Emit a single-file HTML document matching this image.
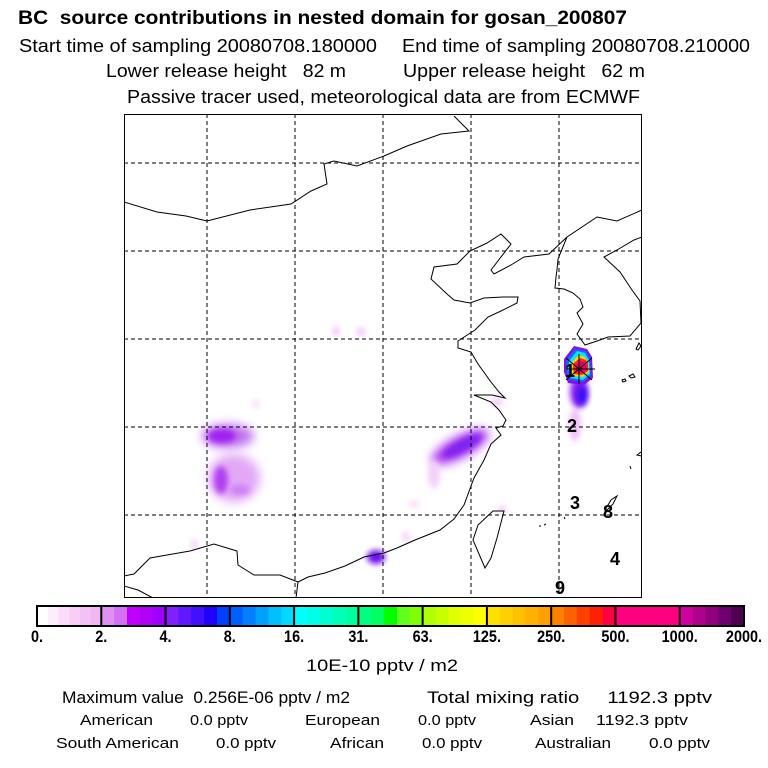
<!DOCTYPE html>
<html><head><meta charset="utf-8"><style>
html,body{margin:0;padding:0;background:#fff;}
svg{display:block;}
text{font-family:"Liberation Sans",Arial,sans-serif;white-space:pre;}
</style></head><body>
<svg width="768" height="768" viewBox="0 0 768 768">
<defs>
<filter id="b3" x="-50%" y="-50%" width="200%" height="200%"><feGaussianBlur stdDeviation="3"/></filter>
<filter id="b5" x="-50%" y="-50%" width="200%" height="200%"><feGaussianBlur stdDeviation="5"/></filter>
<clipPath id="mapclip"><rect x="124" y="114" width="518" height="484"/></clipPath>
</defs>
<rect width="768" height="768" fill="#fff"/>
<g>
<text x="18" y="24" font-size="19" font-weight="bold" textLength="609" lengthAdjust="spacingAndGlyphs">BC  source contributions in nested domain for gosan_200807</text>
<text x="19" y="52" font-size="18" textLength="358" lengthAdjust="spacingAndGlyphs">Start time of sampling 20080708.180000</text>
<text x="402" y="52" font-size="18" textLength="348" lengthAdjust="spacingAndGlyphs">End time of sampling 20080708.210000</text>
<text x="106" y="77" font-size="18" textLength="240" lengthAdjust="spacingAndGlyphs">Lower release height   82 m</text>
<text x="403" y="77" font-size="18" textLength="242" lengthAdjust="spacingAndGlyphs">Upper release height   62 m</text>
<text x="127" y="103" font-size="18" textLength="513" lengthAdjust="spacingAndGlyphs">Passive tracer used, meteorological data are from ECMWF</text>
</g>
<g clip-path="url(#mapclip)">
<g>
<ellipse cx="228" cy="436" rx="26" ry="12" fill="#c070f0" filter="url(#b5)"/>
<ellipse cx="222" cy="436" rx="14" ry="7" fill="#a020f0" filter="url(#b3)"/>
<ellipse cx="234" cy="478" rx="26" ry="24" fill="#e2a8f6" filter="url(#b5)"/>
<ellipse cx="221" cy="480" rx="7" ry="14" fill="#b040f0" filter="url(#b3)"/>
<ellipse cx="240" cy="490" rx="10" ry="5" fill="#cc80f4" filter="url(#b3)"/>
<ellipse cx="460" cy="447" rx="32" ry="11" fill="#b040f0" transform="rotate(-28 460 447)" filter="url(#b5)"/>
<ellipse cx="462" cy="446" rx="22" ry="6" fill="#8020f0" transform="rotate(-28 462 446)" filter="url(#b3)"/>
<ellipse cx="434" cy="475" rx="6" ry="14" fill="#f3d0f8" filter="url(#b3)"/>
<ellipse cx="376" cy="557" rx="9" ry="7" fill="#7010f0" filter="url(#b3)"/>
<ellipse cx="336" cy="331" rx="4" ry="5" fill="#f0c8f6" filter="url(#b3)"/>
<ellipse cx="361" cy="332" rx="5" ry="4" fill="#f0c8f6" filter="url(#b3)"/>
<ellipse cx="497" cy="402" rx="6" ry="5" fill="#f3d0f8" filter="url(#b3)"/>
<ellipse cx="502" cy="509" rx="4" ry="3" fill="#f0c0f6" filter="url(#b3)"/>
<ellipse cx="406" cy="537" rx="4" ry="5" fill="#f3d0f8" filter="url(#b3)"/>
<ellipse cx="414" cy="504" rx="6" ry="4" fill="#f8e0fa" filter="url(#b3)"/>
<ellipse cx="194" cy="545" rx="3" ry="5" fill="#f0c8f6" filter="url(#b3)"/>
<ellipse cx="256" cy="404" rx="3" ry="3" fill="#f0c8f6" filter="url(#b3)"/>
<ellipse cx="575" cy="425" rx="6" ry="16" fill="#efc0f6" filter="url(#b3)"/>
<ellipse cx="579" cy="392" rx="9" ry="16" fill="#9020f0" filter="url(#b3)"/>
<ellipse cx="582" cy="395" rx="5" ry="10" fill="#3010f8" filter="url(#b3)"/>
</g>
<g>
<polygon points="574,346 587,349 592,357 593,378 584,385 568,383 564,372 564,359" fill="#8010f0"/>
<polygon points="575,349 586,351 590,358 591,376 583,382 569,380 566,370 566,360" fill="#2060ff"/>
<polygon points="577,351 585,353 589,360 590,374 583,380 571,378 568,369 569,361" fill="#00e8ff"/>
<polygon points="579,355 585,357 588,362 589,372 583,377 573,376 571,368 572,362" fill="#ffd000"/>
<polygon points="580,358 586,360 588,364 588,371 582,375 574,374 573,367 574,363" fill="#ff2030"/>
<polygon points="581,361 586,363 587,370 581,373 576,371 576,365" fill="#e0006a"/>
</g>
<g stroke="#000" stroke-width="1" stroke-dasharray="4,3">
<line x1="207" y1="114" x2="207" y2="598"/><line x1="295" y1="114" x2="295" y2="598"/>
<line x1="383" y1="114" x2="383" y2="598"/><line x1="471" y1="114" x2="471" y2="598"/>
<line x1="559" y1="114" x2="559" y2="598"/>
<line x1="124" y1="163" x2="642" y2="163"/><line x1="124" y1="251" x2="642" y2="251"/>
<line x1="124" y1="339" x2="642" y2="339"/><line x1="124" y1="427" x2="642" y2="427"/>
<line x1="124" y1="515" x2="642" y2="515"/>
</g>
<g fill="none" stroke="#000" stroke-width="1">
<polyline points="124,202 157,212 186,216 207,221 250,210 291,204 311,191 327,184 324,164 334,161 357,166 384,156 407,146 441,134 469,131 454,116"/>
<polyline points="642,210 617,221 597,217 567,237 549,254 524,257 511,265 494,274 491,270 511,244 501,234 487,243 470,251 457,264 434,267 431,279 447,294 454,300 470,303 484,298 503,297 518,297 517,303 501,311 488,317 475,330 458,341 458,348 471,352 478,364 491,382 499,392 505,398 492,395 474,395 491,402 499,410 506,420 503,426 496,428 501,435 491,444 484,460 474,478 464,505 454,519 440,530 415,540 397,548 384,553 364,557 345,566 325,573 308,577 298,582 296,598"/>
<polyline points="558,259 557,270 556,277 555,288 564,289 573,293 580,299 583,307 577,313 583,324 577,334 585,345 597,341 608,337 630,336 641,323 640,301 632,290 620,272 604,257 617,250 634,240 642,237"/>
<polyline points="567,237 558,259"/>
<polyline points="124,576 134,574 150,558 167,555 190,551 214,544 237,551 238,565 254,575 280,575 298,582"/>
<polyline points="124,586 138,590 153,598"/>
<polygon points="504,511 493,511 478,525 473,540 485,568 491,558 497,538 504,511"/>
<path d="M636,349 l3,-6 2,3 -3,4z M629,376 l4,-2 2,3 -4,1z M622,380 l3,-1 1,2 -3,1z M637,455 l4,-3 4,0 -4,4z M630,466 l1,3 M605,510 l6,-10 6,-4 -4,8 -8,8z M539,526 l2,0 M544,525 l2,-1 M564,517 l1,2"/>
</g>
<g stroke="#000" stroke-width="1">
<line x1="566" y1="358" x2="592" y2="380"/><line x1="592" y1="358" x2="566" y2="380"/>
<line x1="579" y1="354" x2="579" y2="384"/><line x1="566" y1="369" x2="595" y2="369"/>
</g>
<g font-size="18" font-weight="bold" fill="#000">
<text x="565" y="377">1</text>
<text x="567" y="432">2</text>
<text x="570" y="509">3</text>
<text x="603" y="518">8</text>
<text x="610" y="565">4</text>
<text x="555" y="594">9</text>
</g>
</g>
<rect x="124.5" y="114.5" width="517" height="483" fill="none" stroke="#000" stroke-width="1"/>
<g id="colorbar"></g>
<g>
<text x="306" y="671" font-size="17" textLength="152" lengthAdjust="spacingAndGlyphs">10E-10 pptv / m2</text>
<text x="62" y="703" font-size="17" textLength="288" lengthAdjust="spacingAndGlyphs">Maximum value  0.256E-06 pptv / m2</text>
<text x="427" y="703" font-size="17" textLength="285" lengthAdjust="spacingAndGlyphs">Total mixing ratio     1192.3 pptv</text>
<g font-size="15">
<text x="80" y="725" textLength="73" lengthAdjust="spacingAndGlyphs">American</text>
<text x="190" y="725" textLength="58" lengthAdjust="spacingAndGlyphs">0.0 pptv</text>
<text x="305" y="725" textLength="75" lengthAdjust="spacingAndGlyphs">European</text>
<text x="418" y="725" textLength="58" lengthAdjust="spacingAndGlyphs">0.0 pptv</text>
<text x="530" y="725" textLength="44" lengthAdjust="spacingAndGlyphs">Asian</text>
<text x="596" y="725" textLength="92" lengthAdjust="spacingAndGlyphs">1192.3 pptv</text>
<text x="56" y="748" textLength="123" lengthAdjust="spacingAndGlyphs">South American</text>
<text x="216" y="748" textLength="60" lengthAdjust="spacingAndGlyphs">0.0 pptv</text>
<text x="330" y="748" textLength="54" lengthAdjust="spacingAndGlyphs">African</text>
<text x="422" y="748" textLength="60" lengthAdjust="spacingAndGlyphs">0.0 pptv</text>
<text x="535" y="748" textLength="76" lengthAdjust="spacingAndGlyphs">Australian</text>
<text x="649" y="748" textLength="61" lengthAdjust="spacingAndGlyphs">0.0 pptv</text>
</g>
</g>
</svg>
<script>
const tickLabels=["0.","2.","4.","8.","16.","31.","63.","125.","250.","500.","1000.","2000."];
const segmentColors=[
["#ffffff","#fdeefd","#fbdcfb","#f8cdf8","#f5c0f5","#f1b5f4"],
["#e090f4","#d470f6","#c000ff","#b000f8","#a000ff"],
["#8020ff","#6018ff","#4010ff","#2000ff","#0040ff"],
["#0060ff","#0080ff","#00a0ff","#00c0ff","#00d8ff"],
["#00ffff","#00ffe8","#00ffd0","#00ffb8","#00ffa0"],
["#00ff80","#00ff60","#00ff00","#60ff20","#80ff00"],
["#b0ff00","#c8ff00","#e0ff00","#f0ff00","#ffff00"],
["#ffe000","#ffd000","#ffc000","#ffb000","#ffa000"],
["#ff8000","#ff6000","#ff4000","#ff2000","#ff0040"],
["#ff0080","#ff0080","#ff0080","#ff0080","#ff0080"],
["#d000a0","#b00090","#900080","#700070","#500050"]];
const NS="http://www.w3.org/2000/svg";
const cb=document.getElementById('colorbar');
const x0=37,x1=744,y0=606,h=20;
const segW=(x1-x0)/segmentColors.length;
function xAt(i){return x0+i*segW;}
segmentColors.forEach((cols,i)=>{
  const sw=segW/cols.length;
  cols.forEach((c,j)=>{
    const r=document.createElementNS(NS,'rect');
    r.setAttribute('x',xAt(i)+j*sw);r.setAttribute('y',y0);
    r.setAttribute('width',sw+0.6);r.setAttribute('height',h);r.setAttribute('fill',c);
    
    
    cb.appendChild(r);
  });
});
tickLabels.forEach((t,i)=>{
  const x=xAt(i);
  const l=document.createElementNS(NS,'line');
  l.setAttribute('x1',x);l.setAttribute('x2',x);l.setAttribute('y1',y0);l.setAttribute('y2',y0+h);
  l.setAttribute('stroke','#000');l.setAttribute('stroke-width','2');
  
  
  cb.appendChild(l);
  const tx=document.createElementNS(NS,'text');
  tx.setAttribute('x',x);tx.setAttribute('y',642);tx.setAttribute('font-size','17');
  tx.setAttribute('font-weight','bold');tx.setAttribute('text-anchor','middle');
  tx.setAttribute('transform','translate('+x+' 0) scale(0.85 1) translate('+(-x)+' 0)');
  tx.textContent=t;
  
  
  cb.appendChild(tx);
});
const fr=document.createElementNS(NS,'rect');
fr.setAttribute('x',x0);fr.setAttribute('y',y0);fr.setAttribute('width',x1-x0);fr.setAttribute('height',h);
fr.setAttribute('fill','none');fr.setAttribute('stroke','#000');fr.setAttribute('stroke-width','2');


cb.appendChild(fr);
</script>
</body></html>
